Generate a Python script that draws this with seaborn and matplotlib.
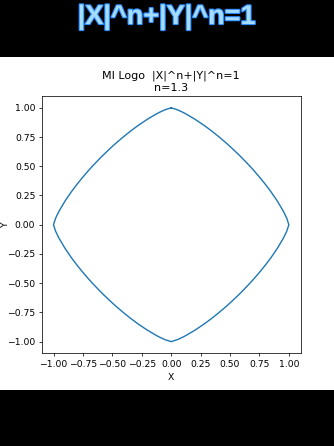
import matplotlib
matplotlib.use("Agg")
import matplotlib.pyplot as plt
import matplotlib.patheffects as pe
from matplotlib.patches import Rectangle
import seaborn as sns
import pandas as pd

# Data: first-quadrant arc of |x|^n + |y|^n = 1 with n = 1.3
n_label = "n=1.3"
arc_x = [0, 0.05, 0.0602, 0.1, 0.1214, 0.2, 0.2057, 0.2792, 0.3, 0.3461, 0.4, 0.4665,
         0.5, 0.5733, 0.6, 0.6698, 0.7, 0.7568, 0.8, 0.8349, 0.85, 0.9, 0.9036, 0.95,
         0.9612, 0.98, 0.9843, 1.0]
arc_y = [1.0, 0.9843, 0.98, 0.9612, 0.95, 0.9036, 0.9, 0.85, 0.8349, 0.8, 0.7568, 0.7,
         0.6698, 0.6, 0.5733, 0.5, 0.4665, 0.4, 0.3461, 0.3, 0.2792, 0.2057, 0.2, 0.1214,
         0.1, 0.0602, 0.05, 0.0]
title_main = "MI Logo  |X|^n+|Y|^n=1"
banner = "|X|^n+|Y|^n=1"

# Build closed loop by mirroring the arc into the four quadrants
xs = list(arc_x) + [x for x in arc_x[::-1]] + [-x for x in arc_x] + [-x for x in arc_x[::-1]]
ys = list(arc_y) + [-y for y in arc_y[::-1]] + [-y for y in arc_y] + [y for y in arc_y[::-1]]
df = pd.DataFrame({"x": xs, "y": ys, "order": range(len(xs))})

s = 0.668
W, H = 334, 446
fig = plt.figure(figsize=(W / 100, H / 100), dpi=100, facecolor="black")

# white panel
fig.patches.append(Rectangle((0, (H - 390) / H), 1, 333.5 / H, transform=fig.transFigure,
                             facecolor="white", edgecolor="none", zorder=-5))

ax = fig.add_axes([0.125, (H - 353.3) / H, 0.775, 0.77 * 334 / H])
ax.set_zorder(2)
sns.lineplot(data=df, x="x", y="y", sort=False, estimator=None, ax=ax,
             color="#1f77b4", linewidth=1.5 * s)
ax.set_title(title_main + "\n" + n_label, fontsize=12 * s, pad=6 * s)
ax.set_xlabel("X", fontsize=10 * s, labelpad=4 * s)
ax.set_ylabel("Y", fontsize=10 * s)
ax.yaxis.set_label_coords(-0.122, 0.5)
ax.set_xticks([-1, -0.75, -0.5, -0.25, 0, 0.25, 0.5, 0.75, 1.0])
ax.set_yticks([-1, -0.75, -0.5, -0.25, 0, 0.25, 0.5, 0.75, 1.0])
ax.tick_params(labelsize=10 * s, length=3.5 * s, width=0.8 * s, pad=3.5 * s)
for sp in ax.spines.values():
    sp.set_linewidth(0.8 * s)

t = fig.text(0.5, 1 - 17 / H, banner, ha="center", va="center", fontsize=19.5,
             fontweight="bold", family=["Liberation Sans", "DejaVu Sans"], color="#a6dcff")
t.set_path_effects([pe.Stroke(linewidth=1.6, foreground="#2b8cff"), pe.Normal()])

fig.savefig("out.png", dpi=100, facecolor="black")
